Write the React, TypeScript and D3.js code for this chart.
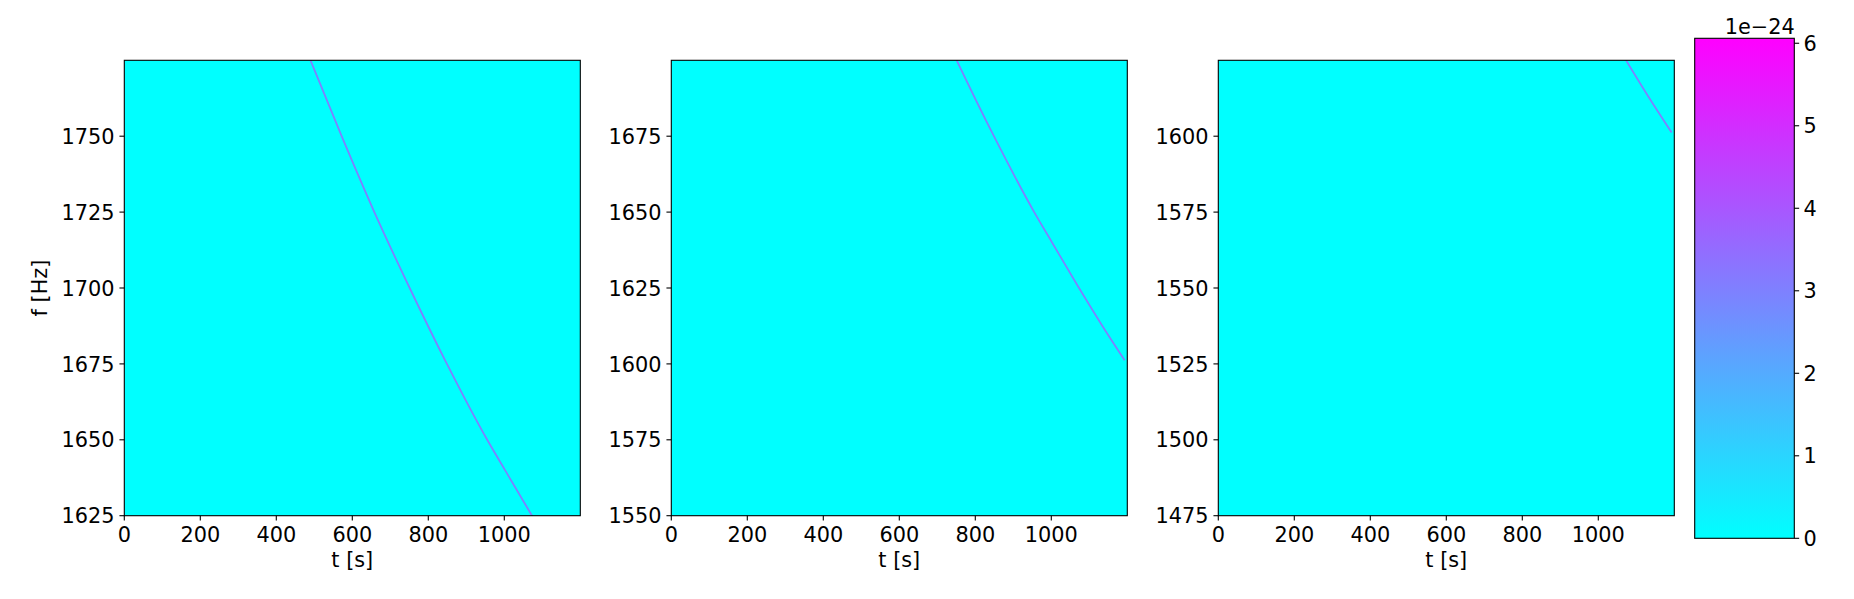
import React from "react";
import * as d3 from "d3";

// time / frequency windows of the three spectrogram panels
const tMax = 1200;
const timeTicks = [0, 200, 400, 600, 800, 1000];
const freqLows = [1625, 1550, 1475];
const freqSpan = 150;
const freqTicks = [
  [1625, 1650, 1675, 1700, 1725, 1750],
  [1550, 1575, 1600, 1625, 1650, 1675],
  [1475, 1500, 1525, 1550, 1575, 1600],
];

// chirp track (t in s, f in Hz)
const trackT = [490, 572, 658, 751, 849, 955, 1002, 1073, 1132, 1193];
const trackF = [1775, 1750, 1725, 1700, 1675, 1650, 1640, 1625, 1613, 1601.2];
const trackPower = 3.0e-24;

// colour bar
const vMax = 6.06e-24;
const cbarTicks = [0, 1, 2, 3, 4, 5, 6];
const cbarExponent = "1e\u221224";

const W = 1854;
const H = 599;
const panelLeft = [124.3, 671.3, 1218.3];
const panelTop = 60.3;
const panelW = 456;
const panelH = 455.4;
const cbar = { x: 1694.7, y: 38.3, w: 99.6, h: 500 };
const tickLen = 4.86;
const pad = 4.86;
const font = "'DejaVu Sans', sans-serif";
const fs = 20.83;

const cool = d3.scaleLinear<string>().domain([0, vMax]).range(["#00ffff", "#ff00ff"]).interpolate(d3.interpolateRgb);

export default function App() {
  const x = d3.scaleLinear().domain([0, tMax]).range([0, panelW]);
  const cy = d3.scaleLinear().domain([0, vMax / 1e-24]).range([cbar.h, 0]);
  const pts = trackT.map((t, i) => [t, trackF[i]] as [number, number]);

  return (
    <svg width={W} height={H} style={{ position: "absolute", left: 0, top: 0, background: "#fff" }} fontFamily={font}>
      <defs>
        {freqLows.map((_, i) => (
          <clipPath key={i} id={`clip${i}`}>
            <rect width={panelW} height={panelH} />
          </clipPath>
        ))}
        <linearGradient id="cbarGrad" x1="0" y1="1" x2="0" y2="0">
          <stop offset="0" stopColor={cool(0)} />
          <stop offset="1" stopColor={cool(vMax)} />
        </linearGradient>
      </defs>

      {freqLows.map((lo, i) => {
        const y = d3.scaleLinear().domain([lo, lo + freqSpan]).range([panelH, 0]);
        const line = d3.line<[number, number]>()
          .x(d => x(d[0]))
          .y(d => y(d[1]))
          .curve(d3.curveMonotoneX);
        return (
          <g key={i} transform={`translate(${panelLeft[i]},${panelTop})`}>
            <rect width={panelW} height={panelH} fill={cool(0)} />
            <g clipPath={`url(#clip${i})`}>
              <path d={line(pts) || ""} fill="none" stroke={cool(trackPower)} strokeWidth={1.8} />
            </g>
            <rect width={panelW} height={panelH} fill="none" stroke="#000" strokeWidth={1.1} />

            {timeTicks.map(t => (
              <g key={t} transform={`translate(${x(t)},${panelH})`}>
                <line y2={tickLen} stroke="#000" strokeWidth={1.1} />
                <text y={26.3} textAnchor="middle" fontSize={fs}>{t}</text>
              </g>
            ))}
            <text x={panelW / 2} y={506.7} textAnchor="middle" fontSize={fs}>t [s]</text>

            {freqTicks[i].map(f => (
              <g key={f} transform={`translate(0,${y(f)})`}>
                <line x2={-tickLen} stroke="#000" strokeWidth={1.1} />
                <text x={-tickLen - pad} y={7.6} textAnchor="end" fontSize={fs}>{f}</text>
              </g>
            ))}
            {i === 0 && (
              <text transform={`translate(${-77.8},${panelH / 2}) rotate(-90)`} textAnchor="middle" fontSize={fs}>f [Hz]</text>
            )}
          </g>
        );
      })}

      <g transform={`translate(${cbar.x},${cbar.y})`}>
        <rect width={cbar.w} height={cbar.h} fill="url(#cbarGrad)" stroke="#000" strokeWidth={1.1} />
        {cbarTicks.map(v => (
          <g key={v} transform={`translate(${cbar.w},${cy(v)})`}>
            <line x2={tickLen} stroke="#000" strokeWidth={1.1} />
            <text x={tickLen + pad - 0.5} y={7.6} fontSize={fs}>{v}</text>
          </g>
        ))}
        <text x={cbar.w + 0.5} y={-4} textAnchor="end" fontSize={fs}>{cbarExponent}</text>
      </g>
    </svg>
  );
}
